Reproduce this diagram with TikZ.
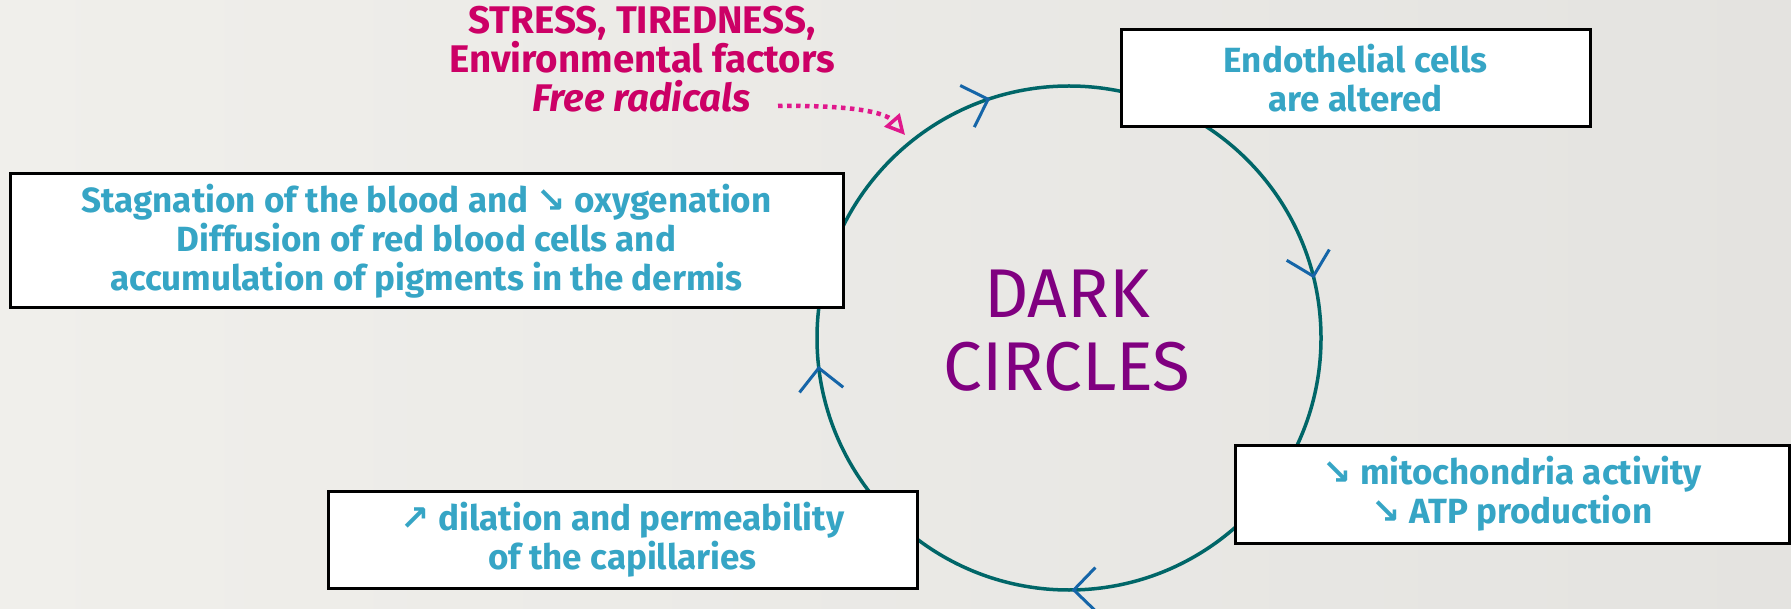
\documentclass[tikz,border=0pt]{standalone}
\usepackage{fontspec}
\setmainfont{Fira Sans}
\newfontfamily\arrowfont{DejaVu Sans}
\usetikzlibrary{arrows.meta,decorations.markings}
\definecolor{boxtext}{HTML}{36A5C5}
\definecolor{stresscol}{HTML}{CC0066}
\definecolor{dotcol}{HTML}{E0188C}
\definecolor{darkcol}{HTML}{800080}
\definecolor{ringcol}{HTML}{006668}
\definecolor{headcol}{HTML}{1565A8}
\definecolor{bgL}{HTML}{F0EFEB}
\definecolor{bgR}{HTML}{E4E3E0}
\newcommand\vhead{\draw[headcol,line width=3pt] (22pt,22pt) -- (0pt,0pt) -- (22pt,-22pt);}
\newcommand\dn{{\arrowfont\char"2198}}
\newcommand\up{{\arrowfont\char"2197}}
\tikzset{
  infobox/.style={draw=black, line width=3pt, fill=white, text=boxtext, align=center,
    inner sep=0pt, font=\bfseries\fontsize{35}{39}\selectfont},
  ring/.style={draw=ringcol, line width=3.5pt, postaction={decorate},
    decoration={markings,
      mark=at position 0.0394 with {\vhead},
      mark=at position 0.302 with {\vhead},
      mark=at position 0.519 with {\vhead},
      mark=at position 0.753 with {\vhead}}},
  cause/.style={text=stresscol, align=center, font=\bfseries\fontsize{38.5}{39}\selectfont},
  centretext/.style={text=darkcol, align=center, font=\fontsize{69}{73}\selectfont},
  dotarrow/.style={draw=dotcol, line width=4.5pt, dash pattern=on 4.5pt off 4.5pt,
    -{Triangle[open,length=20pt,width=20pt,line width=3.5pt]}}
}
\begin{document}
\begin{tikzpicture}[x=1pt,y=1pt]
\shade[left color=bgL, right color=bgR] (0,0) rectangle (1791,-609);
\useasboundingbox (0,0) rectangle (1791,-609);

\draw[ring] (1069,-338) circle[radius=252pt];

\node[centretext] (dark) at (1067,-331) {DARK\\CIRCLES};

\node[infobox, minimum width=469pt, minimum height=97pt] (endo) at (1355.5,-78.5)
  {Endothelial cells\\are altered};
\node[infobox, minimum width=554pt, minimum height=98pt] (mito) at (1512,-494)
  {\dn\ mitochondria activity\\\dn\ ATP production};
\node[infobox, minimum width=589pt, minimum height=97pt] (dila) at (622.5,-539.5)
  {\up\ dilation and permeability\\of the capillaries};
\node[infobox, minimum width=833pt, minimum height=134pt] (stag) at (426.5,-241)
  {Stagnation of the blood and \dn\ oxygenation\\Diffusion of red blood cells and\\accumulation of pigments in the dermis};

\node[cause] (stress) at (642,-59)
  {STRESS, TIREDNESS,\\Environmental factors\\\itshape Free radicals};

\coordinate (dstart) at (778,-106);
\coordinate (dend) at (905,-135);
\draw[dotarrow] (dstart) .. controls (850,-105) and (885,-112) .. (dend);
\end{tikzpicture}
\end{document}
